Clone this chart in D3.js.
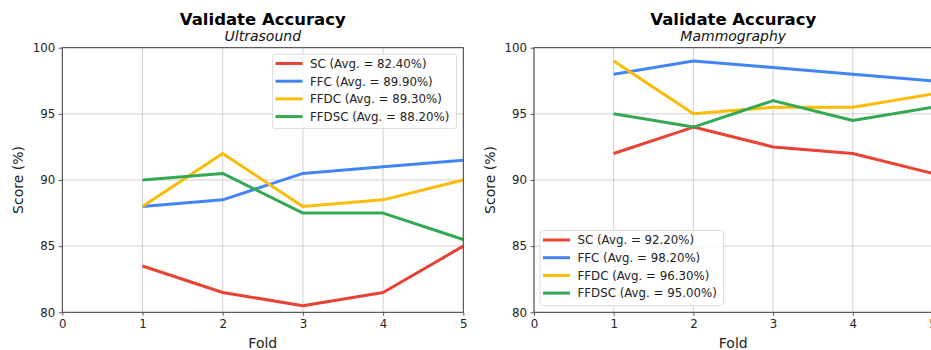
<!DOCTYPE html>
<html>
<head>
<meta charset="utf-8">
<script src="https://cdn.jsdelivr.net/npm/d3@7"></script>
<style>
  html, body { margin: 0; padding: 0; background: #fff; overflow: hidden; }
  svg { display: block; font-family: "DejaVu Sans", sans-serif; }
</style>
</head>
<body>
<svg id="chart" width="931" height="350"></svg>
<script>
// Fold indices and tick values
const folds = [1, 2, 3, 4, 5];
const xTicks = [0, 1, 2, 3, 4, 5];
const yTicks = [80, 85, 90, 95, 100];

// Series names and colours
const seriesNames = ["SC", "FFC", "FFDC", "FFDSC"];
const seriesColors = ["#EA4335", "#4285F4", "#FBBC05", "#34A853"];

// Ultrasound validation scores per fold
const usSC    = [83.5, 81.5, 80.5, 81.5, 85.0];
const usFFC   = [88.0, 88.5, 90.5, 91.0, 91.5];
const usFFDC  = [88.0, 92.0, 88.0, 88.5, 90.0];
const usFFDSC = [90.0, 90.5, 87.5, 87.5, 85.5];
const usAvg   = ["82.40", "89.90", "89.30", "88.20"];

// Mammography validation scores per fold
const mmSC    = [92.0, 94.0, 92.5, 92.0, 90.5];
const mmFFC   = [98.0, 99.0, 98.5, 98.0, 97.5];
const mmFFDC  = [99.0, 95.0, 95.5, 95.5, 96.5];
const mmFFDSC = [95.0, 94.0, 96.0, 94.5, 95.5];
const mmAvg   = ["92.20", "98.20", "96.30", "95.00"];

const svg = d3.select("#chart");

function drawPanel(opts) {
  const { left, right, top, bottom, subtitle, series, avgs, legend } = opts;
  const x = d3.scaleLinear().domain([0, 5]).range([left, right]);
  const y = d3.scaleLinear().domain([80, 100]).range([bottom, top]);
  const g = svg.append("g");
  const clipId = "clip-" + subtitle;

  g.append("clipPath").attr("id", clipId)
    .append("rect").attr("x", left).attr("y", top)
    .attr("width", right - left).attr("height", bottom - top);

  // grid
  const grid = g.append("g").attr("stroke", "#b0b0b0").attr("stroke-width", 0.8).attr("opacity", 0.75);
  xTicks.forEach(t => grid.append("line")
    .attr("x1", x(t)).attr("x2", x(t)).attr("y1", top).attr("y2", bottom));
  yTicks.forEach(t => grid.append("line")
    .attr("x1", left).attr("x2", right).attr("y1", y(t)).attr("y2", y(t)));

  // series lines
  const line = d3.line().x((d, i) => x(folds[i])).y(d => y(d));
  const lines = g.append("g").attr("clip-path", `url(#${clipId})`);
  series.forEach((s, i) => {
    lines.append("path").datum(s)
      .attr("d", line)
      .attr("fill", "none")
      .attr("stroke", seriesColors[i])
      .attr("stroke-width", 3)
      .attr("stroke-linejoin", "round")
      .attr("stroke-linecap", "butt");
  });

  // axes
  const xAxis = g.append("g").attr("transform", `translate(0,${bottom})`)
    .call(d3.axisBottom(x).tickValues(xTicks).tickFormat(d3.format("d")).tickSizeOuter(0).tickSize(3.5).tickPadding(3.5));
  const yAxis = g.append("g").attr("transform", `translate(${left},0)`)
    .call(d3.axisLeft(y).tickValues(yTicks).tickFormat(d3.format("d")).tickSizeOuter(0).tickSize(3.5).tickPadding(3.5));
  [xAxis, yAxis].forEach(a => {
    a.select(".domain").remove();
    a.selectAll("line").attr("stroke", "#333").attr("stroke-width", 0.8);
    a.selectAll("text").attr("font-family", "DejaVu Sans").attr("font-size", 11.8).attr("fill", "#222");
  });

  // frame
  g.append("rect").attr("x", left).attr("y", top)
    .attr("width", right - left).attr("height", bottom - top)
    .attr("fill", "none").attr("stroke", "#333").attr("stroke-width", 0.9);

  // titles
  const cx = (left + right) / 2;
  g.append("text").attr("x", cx).attr("y", 25).attr("text-anchor", "middle")
    .attr("font-weight", "bold").attr("font-size", 16.5).attr("fill", "#000")
    .text("Validate Accuracy");
  g.append("text").attr("x", cx).attr("y", 40.5).attr("text-anchor", "middle")
    .attr("font-style", "italic").attr("font-size", 14).attr("fill", "#111")
    .text(subtitle);

  // axis labels
  g.append("text").attr("x", cx).attr("y", 348).attr("text-anchor", "middle")
    .attr("font-size", 14).attr("fill", "#222").text("Fold");
  g.append("text")
    .attr("transform", `translate(${left - 39},${(top + bottom) / 2}) rotate(-90)`)
    .attr("text-anchor", "middle").attr("font-size", 14).attr("fill", "#222")
    .text("Score (%)");

  // legend
  const lg = g.append("g");
  lg.append("rect").attr("x", legend.x).attr("y", legend.y)
    .attr("width", legend.w).attr("height", legend.h).attr("rx", 2.5)
    .attr("fill", "#fff").attr("fill-opacity", 0.8)
    .attr("stroke", "#d6d6d6").attr("stroke-width", 0.8);
  seriesNames.forEach((name, i) => {
    const ry = legend.y + 9.5 + i * 17.7;
    lg.append("line").attr("x1", legend.x + 3).attr("x2", legend.x + 30)
      .attr("y1", ry).attr("y2", ry)
      .attr("stroke", seriesColors[i]).attr("stroke-width", 3);
    lg.append("text").attr("x", legend.x + 37.5).attr("y", ry + 4.3)
      .attr("font-size", 11.8).attr("fill", "#222")
      .text(`${name} (Avg. = ${avgs[i]}%)`);
  });
}

drawPanel({
  left: 62.3, right: 463.3, top: 47.7, bottom: 312.3,
  subtitle: "Ultrasound",
  series: [usSC, usFFC, usFFDC, usFFDSC],
  avgs: usAvg,
  legend: { x: 272.5, y: 54, w: 184, h: 74.5 }
});

drawPanel({
  left: 534, right: 932.5, top: 47.7, bottom: 312.3,
  subtitle: "Mammography",
  series: [mmSC, mmFFC, mmFFDC, mmFFDSC],
  avgs: mmAvg,
  legend: { x: 540, y: 230.5, w: 183.5, h: 75 }
});
</script>
</body>
</html>
